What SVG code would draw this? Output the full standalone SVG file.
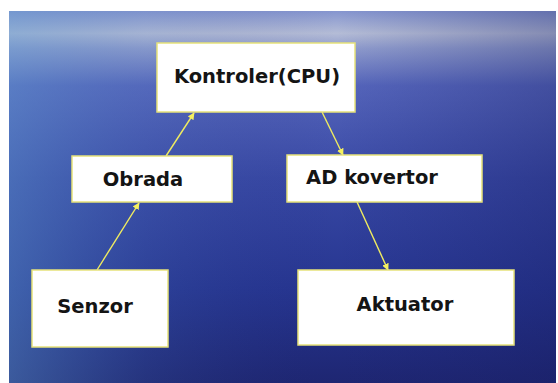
<svg xmlns="http://www.w3.org/2000/svg" width="558" height="383" viewBox="0 0 558 383">
<defs>
<linearGradient id="bgv" x1="0" y1="0" x2="0" y2="1">
<stop offset="0" stop-color="#8595cf"/>
<stop offset="0.06" stop-color="#b4bcd6"/>
<stop offset="0.1" stop-color="#8f9ccd"/>
<stop offset="0.2" stop-color="#5565bb"/>
<stop offset="0.45" stop-color="#3848a4"/>
<stop offset="0.75" stop-color="#263590"/>
<stop offset="1" stop-color="#1e2672"/>
</linearGradient>
<linearGradient id="bgh" x1="0" y1="0" x2="1" y2="0">
<stop offset="0" stop-color="#5f9ad0" stop-opacity="0.45"/>
<stop offset="0.25" stop-color="#4f80c0" stop-opacity="0.15"/>
<stop offset="0.6" stop-color="#1a1f6a" stop-opacity="0"/>
<stop offset="1" stop-color="#161a5e" stop-opacity="0.3"/>
</linearGradient>
<marker id="ah" viewBox="0 0 10 10" refX="9" refY="5" markerWidth="7" markerHeight="7" orient="auto" markerUnits="userSpaceOnUse">
<path d="M0,0 L10,5 L0,10 z" fill="#f4f060"/>
</marker>
<style>
.box{fill:#ffffff;stroke:#e6e27a;stroke-width:1.5}
.lbl{font-family:"DejaVu Sans",Verdana,sans-serif;font-weight:bold;font-size:19.5px;fill:#141414;text-anchor:middle}
.con{stroke:#f0ec60;stroke-width:1.4;fill:none;marker-end:url(#ah)}
</style>
</defs>
<rect x="0" y="0" width="558" height="383" fill="#ffffff"/>
<rect x="9" y="11" width="547" height="372" fill="url(#bgv)"/>
<rect x="9" y="11" width="547" height="372" fill="url(#bgh)"/>
<g id="connectors">
<line class="con" x1="97" y1="270" x2="139" y2="203"/>
<line class="con" x1="166" y1="156" x2="194" y2="113"/>
<line class="con" x1="322" y1="112" x2="343" y2="155"/>
<line class="con" x1="357" y1="202" x2="388" y2="270"/>
</g>
<g id="kontroler">
<rect class="box" x="157" y="43" width="198" height="69"/>
<text class="lbl" x="257" y="83">Kontroler(CPU)</text>
</g>
<g id="obrada">
<rect class="box" x="72" y="156" width="160" height="46"/>
<text class="lbl" x="143" y="186">Obrada</text>
</g>
<g id="ad-kovertor">
<rect class="box" x="287" y="155" width="195" height="47"/>
<text class="lbl" x="372" y="184">AD kovertor</text>
</g>
<g id="senzor">
<rect class="box" x="32" y="270" width="136" height="77"/>
<text class="lbl" x="95" y="313">Senzor</text>
</g>
<g id="aktuator">
<rect class="box" x="298" y="270" width="216" height="75"/>
<text class="lbl" x="405" y="311">Aktuator</text>
</g>
</svg>
